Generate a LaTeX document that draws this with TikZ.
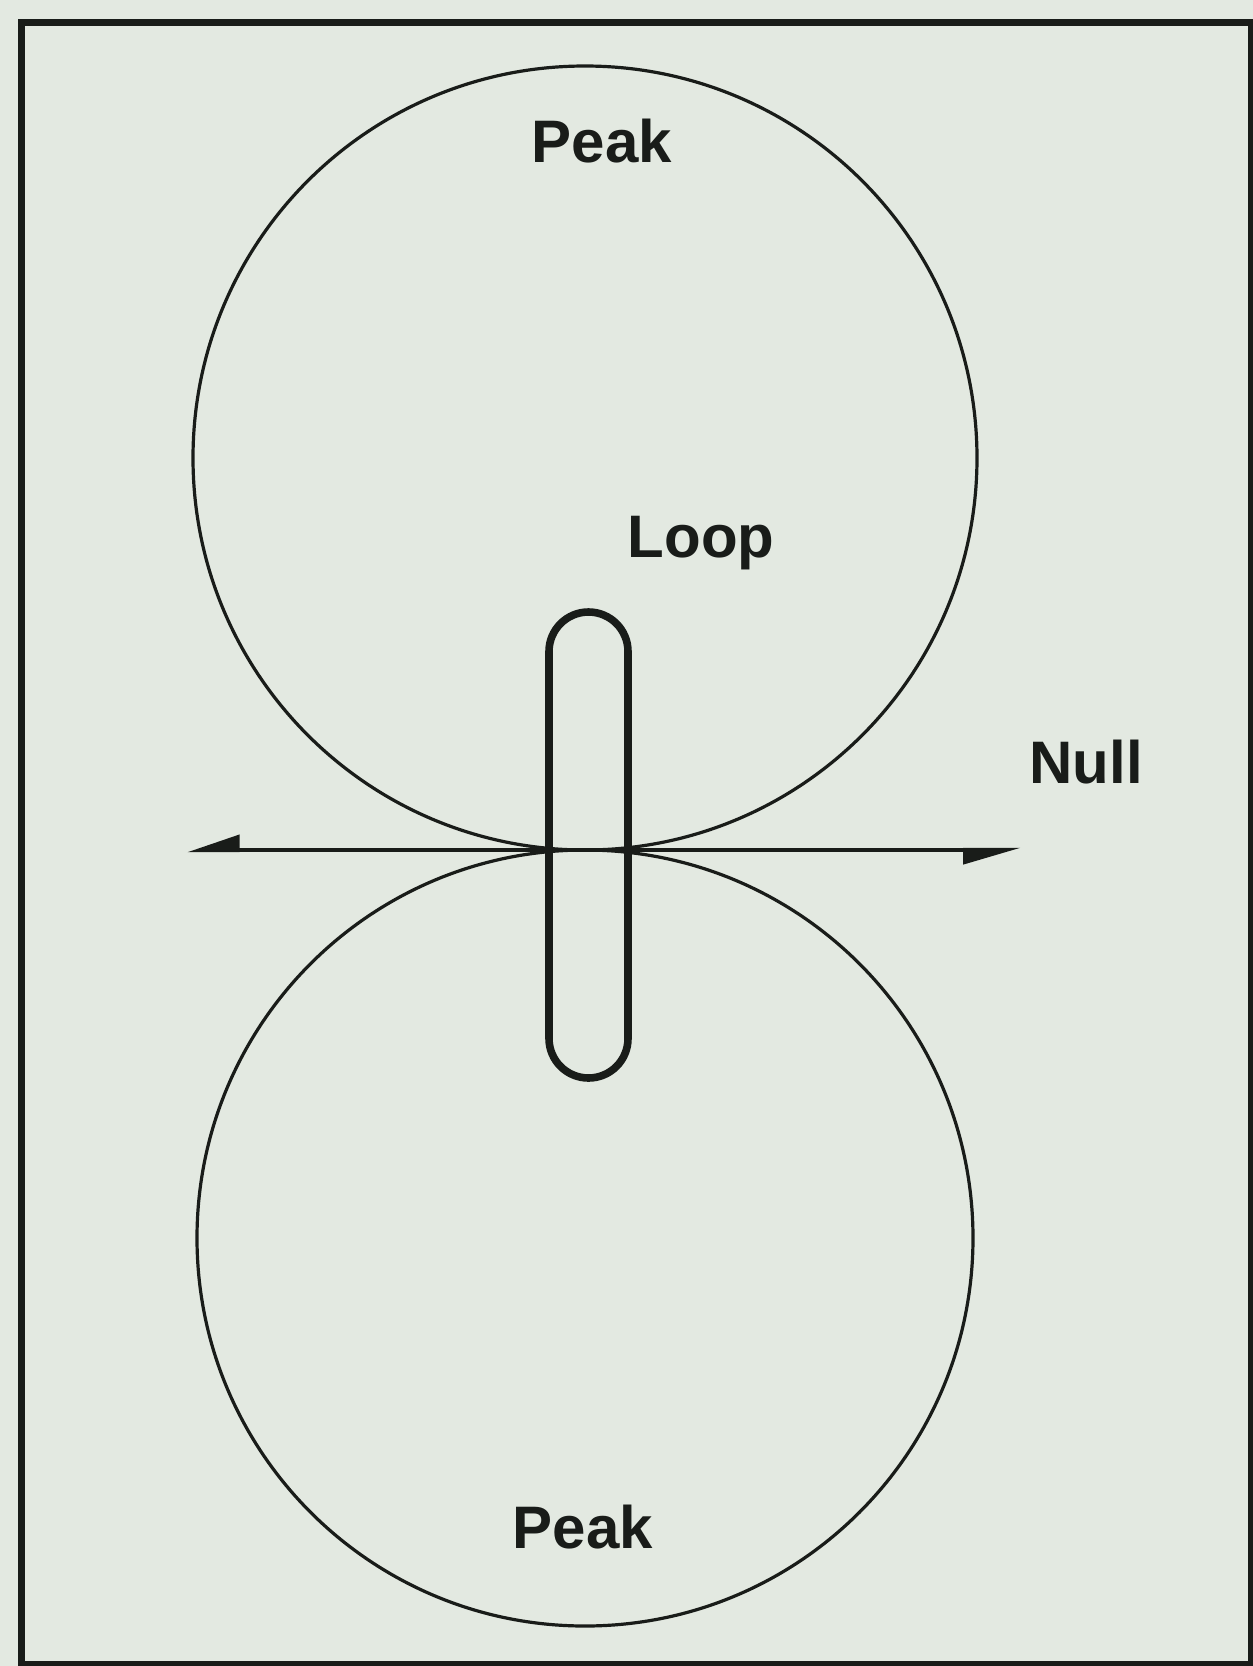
\documentclass[tikz,border=0pt]{standalone}
\usepackage{fontspec}
\setmainfont{Liberation Sans}
\usetikzlibrary{arrows.meta}
\definecolor{paper}{RGB}{227,233,225}
\definecolor{ink}{RGB}{25,28,25}
\begin{document}
\begin{tikzpicture}[x=0.5pt,y=-0.5pt,
  lobe/.style={circle,draw=ink,line width=1.6pt,inner sep=0pt,outer sep=0pt},
  tag/.style={font=\fontsize{30}{30}\selectfont\bfseries,text=ink,anchor=base,inner sep=0pt},
  loopbox/.style={draw=ink,line width=3.8pt,rectangle,rounded corners=19.75pt,minimum width=39.5pt,minimum height=233pt,inner sep=0pt},
  nullaxis/.style={draw=ink,line width=2.2pt},
  frame/.style={draw=ink,line width=3.5pt}]
\fill[paper] (0,0) rectangle (1253,1666);
\useasboundingbox (0,0) rectangle (1253,1666);
\draw[frame] (21,22) rectangle (1251,1664);
\node[lobe,minimum size=392pt] (upper) at (585,458) {};
\node[lobe,minimum size=388pt] (lower) at (585,1238) {};
\coordinate (L) at (187,850);
\coordinate (R) at (1021,850);
\draw[nullaxis,{Triangle[harpoon,swap,length=23pt,width=15pt]}-{Triangle[harpoon,swap,length=25pt,width=14pt]}] (L) -- (R);
\node[loopbox] (loop) at (588.5,845) {};
\node[tag] (peaktop) at (602,162) {Peak};
\node[tag] (looplabel) at (701,557) {Loop};
\node[tag] (null) at (1086,783) {Null};
\node[tag] (peakbot) at (583,1548) {Peak};
\end{tikzpicture}
\end{document}
